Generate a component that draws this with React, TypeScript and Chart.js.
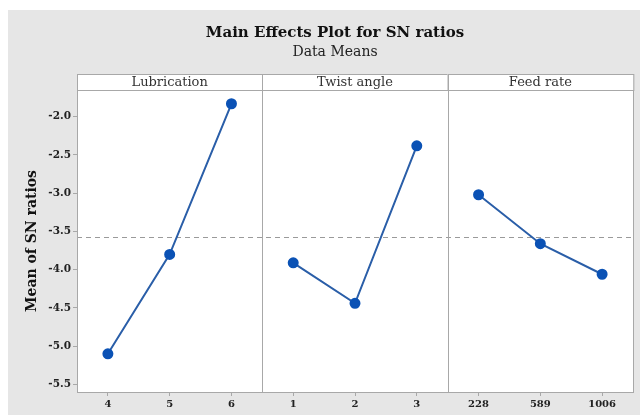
import React, { useEffect, useRef } from "react";
import { Chart, registerables } from "chart.js";

Chart.register(...registerables);

const panelNames = ["Lubrication", "Twist angle", "Feed rate"];
const lubricationLevels = ["4", "5", "6"];
const twistLevels = ["1", "2", "3"];
const feedLevels = ["228", "589", "1006"];
const lubricationMeans = [-5.1, -3.8, -1.83];
const twistMeans = [-3.91, -4.44, -2.38];
const feedMeans = [-3.02, -3.66, -4.06];
const yTicks = [-5.5, -5.0, -4.5, -4.0, -3.5, -3.0, -2.5, -2.0];

const SERIF = "'DejaVu Serif', 'Liberation Serif', serif";
const BLUE_LINE = "#2a5ea8";
const BLUE_PT = "#0b52b5";

export default function App() {
  const ref = useRef<HTMLCanvasElement | null>(null);

  useEffect(() => {
    if (!ref.current) return;
    const labels = [...lubricationLevels, ...twistLevels, ...feedLevels];
    const groups = [lubricationMeans, twistMeans, feedMeans];
    const datasets = groups.map((vals, g) => {
      const data: (number | null)[] = labels.map(() => null);
      vals.forEach((v, i) => (data[g * 3 + i] = v));
      return {
        label: panelNames[g],
        data,
        borderColor: BLUE_LINE,
        backgroundColor: BLUE_PT,
        pointBackgroundColor: BLUE_PT,
        pointBorderColor: BLUE_PT,
        pointRadius: 4.5,
        borderWidth: 2,
        spanGaps: false,
      };
    });
    const all = [...lubricationMeans, ...twistMeans, ...feedMeans];
    const grandMean = all.reduce((a, b) => a + b, 0) / all.length;

    const decor = {
      id: "decor",
      beforeDraw(chart: any) {
        const ctx = chart.ctx;
        ctx.save();
        ctx.fillStyle = "#ffffff";
        ctx.fillRect(0, 0, chart.width, chart.height);
        ctx.fillStyle = "#e6e6e6";
        ctx.fillRect(8, 10, chart.width - 8, chart.height - 10);
        const a = chart.chartArea;
        ctx.fillStyle = "#ffffff";
        ctx.fillRect(a.left, a.top, a.right - a.left, a.bottom - a.top);
        ctx.restore();
      },
      afterDraw(chart: any) {
        const ctx = chart.ctx;
        const a = chart.chartArea;
        const xs = chart.scales.x;
        ctx.save();
        // title
        ctx.fillStyle = "#111";
        ctx.textAlign = "center";
        ctx.textBaseline = "middle";
        ctx.font = `bold 15px ${SERIF}`;
        ctx.fillText("Main Effects Plot for SN ratios", 335, 33);
        ctx.font = `14px ${SERIF}`;
        ctx.fillStyle = "#222";
        ctx.fillText("Data Means", 335, 52);
        // headers
        const hTop = 74;
        const bounds = [a.left];
        bounds.push((xs.getPixelForValue(2) + xs.getPixelForValue(3)) / 2);
        bounds.push((xs.getPixelForValue(5) + xs.getPixelForValue(6)) / 2);
        bounds.push(a.right);
        ctx.strokeStyle = "#a8a8a8";
        ctx.lineWidth = 1;
        for (let i = 0; i < 3; i++) {
          const l = bounds[i], r = bounds[i + 1];
          ctx.fillStyle = "#ffffff";
          ctx.fillRect(l, hTop, r - l, a.top - hTop);
          ctx.strokeRect(Math.round(l) + 0.5, hTop + 0.5, r - l, a.top - hTop);
          ctx.fillStyle = "#333";
          ctx.font = `13px ${SERIF}`;
          ctx.fillText(panelNames[i], (l + r) / 2, (hTop + a.top) / 2 + 1);
        }
        // dividers
        for (let i = 1; i < 3; i++) {
          const x = Math.round(bounds[i]) + 0.5;
          ctx.beginPath();
          ctx.moveTo(x, a.top);
          ctx.lineTo(x, a.bottom);
          ctx.stroke();
        }
        // border
        ctx.strokeRect(Math.round(a.left) + 0.5, Math.round(a.top) + 0.5, a.right - a.left, a.bottom - a.top);
        ctx.restore();
      },
      beforeDatasetsDraw(chart: any) {
        const ctx = chart.ctx;
        const a = chart.chartArea;
        const y = Math.round(chart.scales.y.getPixelForValue(grandMean)) + 0.5;
        ctx.save();
        ctx.strokeStyle = "#9a9a9a";
        ctx.lineWidth = 1;
        ctx.setLineDash([5, 4]);
        ctx.beginPath();
        ctx.moveTo(a.left, y);
        ctx.lineTo(a.right, y);
        ctx.stroke();
        ctx.restore();
      },
    };

    const chart = new Chart(ref.current, {
      type: "line",
      data: { labels, datasets: datasets as any },
      options: {
        responsive: false,
        animation: false,
        layout: { padding: { left: 8, right: 7, top: 90, bottom: 0 } },
        plugins: {
          legend: { display: false },
          tooltip: { enabled: false },
          title: { display: false },
        },
        scales: {
          x: {
            type: "category",
            offset: true,
            grid: { drawOnChartArea: false, drawTicks: true, tickLength: 4, color: "#a8a8a8", offset: false },
            border: { display: false },
            ticks: { color: "#222", font: { family: SERIF, size: 10, weight: "bold" }, padding: 2, maxRotation: 0, autoSkip: false },
            afterFit: (s: any) => { s.height = 23; },
          },
          y: {
            type: "linear",
            min: -5.6,
            max: -1.65,
            afterBuildTicks: (s: any) => { s.ticks = yTicks.map((v) => ({ value: v })); },
            ticks: {
              includeBounds: false,
              color: "#222",
              font: { family: SERIF, size: 10.5, weight: "bold" },
              padding: 2,
              callback: (v: any) => Number(v).toFixed(1),
            },
            grid: { drawOnChartArea: false, drawTicks: true, tickLength: 4, color: "#a8a8a8" },
            border: { display: false },
            title: {
              display: true,
              text: "Mean of SN ratios",
              color: "#111",
              font: { family: SERIF, size: 14, weight: "bold" },
              padding: { top: 16, bottom: 0 },
            },
            afterFit: (s: any) => { s.width = 69; },
          },
        },
      },
      plugins: [decor],
    });
    return () => chart.destroy();
  }, []);

  return (
    <div style={{ position: "absolute", left: 0, top: 0, width: 640, height: 415 }}>
      <canvas ref={ref} width={640} height={415} style={{ display: "block" }} />
    </div>
  );
}
